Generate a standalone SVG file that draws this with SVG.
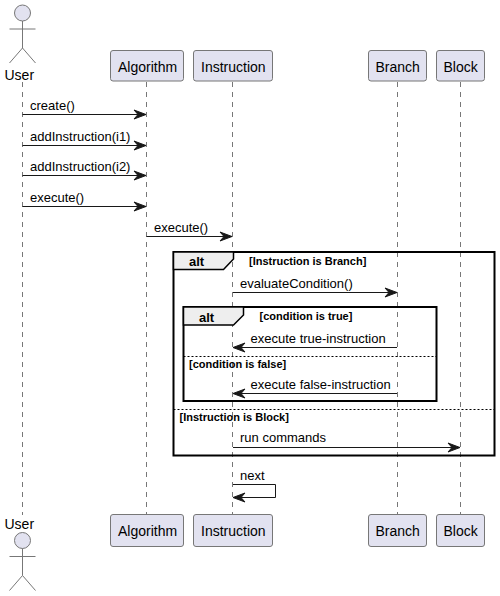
<svg xmlns="http://www.w3.org/2000/svg" width="500" height="596" viewBox="0 0 500 596">
<style>
text{font-family:"Liberation Sans",Arial,sans-serif;fill:#000}
.l{font-size:13px}
.p{font-size:14px}
.g{font-size:11px;font-weight:bold}
.t{font-size:13px;font-weight:bold}
.life{stroke:#777;stroke-width:1;stroke-dasharray:5 5;fill:none}
.box{fill:#E2E2F0;stroke:#777;stroke-width:1}
.act{fill:#E2E2F0;stroke:#777;stroke-width:1}
.actl{fill:none;stroke:#777;stroke-width:1}
.msg{stroke:#181818;stroke-width:1;fill:none}
.head{fill:#181818;stroke:#181818;stroke-width:1}
.frame{fill:none;stroke:#000;stroke-width:2}
.tab{fill:#EEE;stroke:#000;stroke-width:1.5}
.div{stroke:#000;stroke-width:1;stroke-dasharray:2 2}
</style>
<defs>
<path id="ar" class="head" d="M0 0L-12 -4.500L-8 0L-12 4.500Z"/>
<path id="al" class="head" d="M0 0L12 -4.500L8 0L12 4.500Z"/>
<g id="stick"><circle class="act" cx="0" cy="0" r="8"/><path class="actl" d="M0 8V35M-13 16H13M0 35L-13 50M0 35L13 50"/></g>
</defs>
<g id="lifelines">
<path class="life" d="M22.500 82V515"/>
<path class="life" d="M146.500 82V515"/>
<path class="life" d="M232.500 82V515"/>
<path class="life" d="M397.500 82V515"/>
<path class="life" d="M460.500 82V515"/>
</g>
<g id="frames">
<rect class="frame" x="173.500" y="252" width="321" height="203.500"/>
<path class="tab" d="M173.500 252H233.500V259L223.500 269.500H173.500Z"/>
<text class="t" x="189" y="266">alt</text>
<text class="g" x="249" y="265">[Instruction is Branch]</text>
<rect class="frame" x="183.500" y="307" width="253" height="94"/>
<path class="tab" d="M183.500 307H243.500V315L233.500 325H183.500Z"/>
<text class="t" x="199" y="322">alt</text>
<text class="g" x="259.500" y="320">[condition is true]</text>
<path class="div" d="M183.500 356.500H436.500"/>
<text class="g" x="189" y="368">[condition is false]</text>
<path class="div" d="M173.500 409.500H494.500"/>
<text class="g" x="179.500" y="421">[Instruction is Block]</text>
</g>
<g id="connectors">
<path class="msg" d="M22.500 114.500H146"/><use href="#ar" x="146" y="114.500"/><text class="l" x="30" y="110">create()</text>
<path class="msg" d="M22.500 145.500H146"/><use href="#ar" x="146" y="145.500"/><text class="l" x="30" y="140.500">addInstruction(i1)</text>
<path class="msg" d="M22.500 175.500H146"/><use href="#ar" x="146" y="175.500"/><text class="l" x="30" y="171">addInstruction(i2)</text>
<path class="msg" d="M22.500 206.500H146"/><use href="#ar" x="146" y="206.500"/><text class="l" x="30" y="201.500">execute()</text>
<path class="msg" d="M146.500 236.500H232"/><use href="#ar" x="232" y="236.500"/><text class="l" x="154" y="232">execute()</text>
<path class="msg" d="M233 292.500H397"/><use href="#ar" x="397" y="292.500"/><text class="l" x="240" y="287.500">evaluateCondition()</text>
<path class="msg" d="M233 347.500H397"/><use href="#al" x="233" y="347.500"/><text class="l" x="250.500" y="343">execute true-instruction</text>
<path class="msg" d="M233 393.500H397"/><use href="#al" x="233" y="393.500"/><text class="l" x="250.500" y="389">execute false-instruction</text>
<path class="msg" d="M233 447.500H460"/><use href="#ar" x="460" y="447.500"/><text class="l" x="240" y="441.500">run commands</text>
<path class="msg" d="M233 484.500H275.500V497.500H233"/><use href="#al" x="233" y="497.500"/><text class="l" x="240" y="480">next</text>
</g>
<g id="user-top"><use href="#stick" x="22.500" y="13"/><text class="p" x="4.500" y="80">User</text></g>
<g id="algorithm-top"><rect class="box" x="110.500" y="50.500" width="73" height="30.500" rx="2.500"/><text class="p" x="118" y="72">Algorithm</text></g>
<g id="instruction-top"><rect class="box" x="193.500" y="50.500" width="79" height="30.500" rx="2.500"/><text class="p" x="201" y="72">Instruction</text></g>
<g id="branch-top"><rect class="box" x="368.500" y="50.500" width="58" height="30.500" rx="2.500"/><text class="p" x="375.500" y="72">Branch</text></g>
<g id="block-top"><rect class="box" x="436.500" y="50.500" width="48" height="30.500" rx="2.500"/><text class="p" x="443.500" y="72">Block</text></g>
<g id="user-bottom"><text class="p" x="4.500" y="529">User</text><use href="#stick" x="22.500" y="540.500"/></g>
<g id="algorithm-bottom"><rect class="box" x="110.500" y="514.500" width="73" height="32" rx="2.500"/><text class="p" x="118" y="536">Algorithm</text></g>
<g id="instruction-bottom"><rect class="box" x="193.500" y="514.500" width="79" height="32" rx="2.500"/><text class="p" x="201" y="536">Instruction</text></g>
<g id="branch-bottom"><rect class="box" x="368.500" y="514.500" width="58" height="32" rx="2.500"/><text class="p" x="375.500" y="536">Branch</text></g>
<g id="block-bottom"><rect class="box" x="436.500" y="514.500" width="48" height="32" rx="2.500"/><text class="p" x="443.500" y="536">Block</text></g>
</svg>
